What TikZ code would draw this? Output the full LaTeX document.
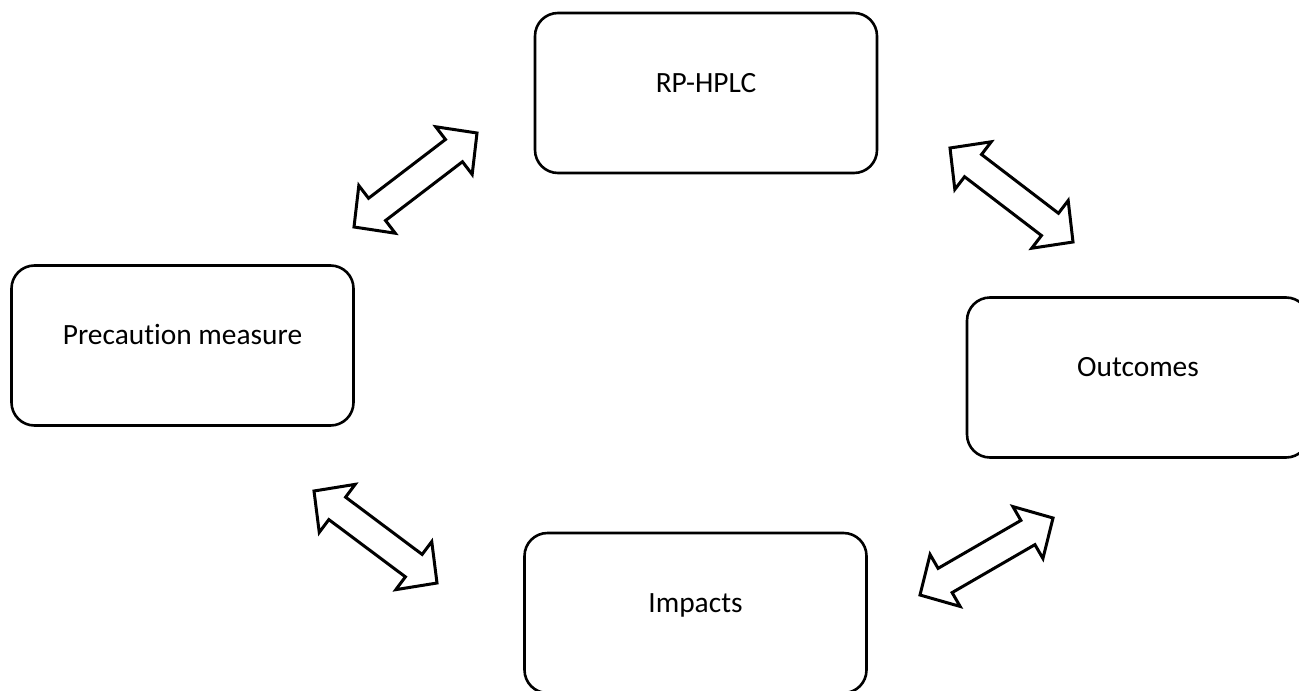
\documentclass[tikz,border=0pt]{standalone}
\usepackage{fontspec}
\setmainfont{Carlito}[Ligatures=NoCommon]
\usetikzlibrary{calc}
\tikzset{stage/.style={draw,line width=1.3pt,rounded corners=11.5pt,minimum width=171pt,minimum height=80pt,
    font=\fontsize{14.7}{17}\selectfont,text height=9.5pt,text depth=10.5pt},
  twoway/.style={draw,line width=1.5pt,fill=white,line join=miter,to path={
    -- ($(\tikztostart)!14.5pt!(\tikztotarget)!15pt!90:(\tikztotarget)$)
    -- ($(\tikztostart)!14.5pt!(\tikztotarget)!7pt!90:(\tikztotarget)$)
    -- ($(\tikztotarget)!14.5pt!(\tikztostart)!7pt!-90:(\tikztostart)$)
    -- ($(\tikztotarget)!14.5pt!(\tikztostart)!15pt!-90:(\tikztostart)$)
    -- (\tikztotarget)
    -- ($(\tikztotarget)!14.5pt!(\tikztostart)!15pt!90:(\tikztostart)$)
    -- ($(\tikztotarget)!14.5pt!(\tikztostart)!7pt!90:(\tikztostart)$)
    -- ($(\tikztostart)!14.5pt!(\tikztotarget)!7pt!-90:(\tikztotarget)$)
    -- ($(\tikztostart)!14.5pt!(\tikztotarget)!15pt!-90:(\tikztotarget)$)
    -- cycle}}}

\begin{document}
\begin{tikzpicture}[x=0.5pt,y=-0.5pt]
    \useasboundingbox (0,0) rectangle (1299,690);
    \clip (0,0) rectangle (1299,690);
    % the four stages
    \node[stage] (hplc)    at (706,93)     {RP-HPLC};
    \node[stage] (precaut) at (182.5,345.5) {Precaution measure};
    \node[stage] (outcome) at (1138,377.5) {Outcomes};
    \node[stage] (impact)  at (695.5,613)  {Impacts};
    % ends of the two-way arrows
    \coordinate (pm-a) at (354,227);  \coordinate (hp-a) at (477,133);
    \coordinate (hp-b) at (950,148);  \coordinate (oc-b) at (1073,242);
    \coordinate (pm-c) at (314,491);  \coordinate (im-c) at (437,583);
    \coordinate (im-d) at (920,595);  \coordinate (oc-d) at (1053,518);
    \foreach \s/\t in {pm-a/hp-a,hp-b/oc-b,pm-c/im-c,im-d/oc-d}
      \draw[twoway] (\s) to (\t);
\end{tikzpicture}
\end{document}
